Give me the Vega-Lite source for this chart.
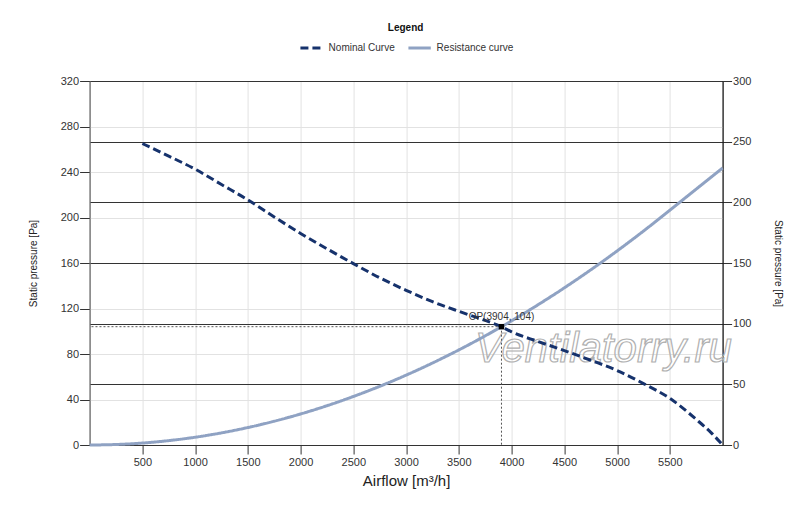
{
  "$schema": "https://vega.github.io/schema/vega-lite/v6.json",
  "width": 633,
  "height": 364,
  "autosize": {"type": "none"},
  "padding": {"left": 89.6, "top": 81, "right": 77.4, "bottom": 62},
  "background": "white",
  "config": {
    "font": "Liberation Sans",
    "view": {"stroke": "#777", "strokeWidth": 1},
    "axis": {"labelColor": "#333", "titleColor": "#222", "tickColor": "#333"}
  },
  "datasets": {
    "curves": [
      {"q": 500, "p": 265, "series": "Nominal Curve"},
      {"q": 750, "p": 254, "series": "Nominal Curve"},
      {"q": 1000, "p": 242.5, "series": "Nominal Curve"},
      {"q": 1250, "p": 229, "series": "Nominal Curve"},
      {"q": 1500, "p": 215.5, "series": "Nominal Curve"},
      {"q": 1750, "p": 200.5, "series": "Nominal Curve"},
      {"q": 2000, "p": 186, "series": "Nominal Curve"},
      {"q": 2250, "p": 172.5, "series": "Nominal Curve"},
      {"q": 2500, "p": 159.5, "series": "Nominal Curve"},
      {"q": 2750, "p": 147, "series": "Nominal Curve"},
      {"q": 3000, "p": 136, "series": "Nominal Curve"},
      {"q": 3250, "p": 126, "series": "Nominal Curve"},
      {"q": 3500, "p": 117.5, "series": "Nominal Curve"},
      {"q": 3750, "p": 109.5, "series": "Nominal Curve"},
      {"q": 3904, "p": 104, "series": "Nominal Curve"},
      {"q": 4000, "p": 99.5, "series": "Nominal Curve"},
      {"q": 4250, "p": 91, "series": "Nominal Curve"},
      {"q": 4500, "p": 83, "series": "Nominal Curve"},
      {"q": 4750, "p": 74.5, "series": "Nominal Curve"},
      {"q": 5000, "p": 65.5, "series": "Nominal Curve"},
      {"q": 5250, "p": 54, "series": "Nominal Curve"},
      {"q": 5500, "p": 41, "series": "Nominal Curve"},
      {"q": 5750, "p": 22.5, "series": "Nominal Curve"},
      {"q": 5900, "p": 10, "series": "Nominal Curve"},
      {"q": 6000, "p": 0, "series": "Nominal Curve"},
      {"q": 0, "p": 0, "series": "Resistance curve"},
      {"q": 250, "p": 0.43, "series": "Resistance curve"},
      {"q": 500, "p": 1.71, "series": "Resistance curve"},
      {"q": 750, "p": 3.84, "series": "Resistance curve"},
      {"q": 1000, "p": 6.82, "series": "Resistance curve"},
      {"q": 1250, "p": 10.66, "series": "Resistance curve"},
      {"q": 1500, "p": 15.35, "series": "Resistance curve"},
      {"q": 1750, "p": 20.9, "series": "Resistance curve"},
      {"q": 2000, "p": 27.29, "series": "Resistance curve"},
      {"q": 2250, "p": 34.54, "series": "Resistance curve"},
      {"q": 2500, "p": 42.65, "series": "Resistance curve"},
      {"q": 2750, "p": 51.6, "series": "Resistance curve"},
      {"q": 3000, "p": 61.41, "series": "Resistance curve"},
      {"q": 3250, "p": 72.08, "series": "Resistance curve"},
      {"q": 3500, "p": 83.59, "series": "Resistance curve"},
      {"q": 3750, "p": 95.96, "series": "Resistance curve"},
      {"q": 3904, "p": 104, "series": "Resistance curve"},
      {"q": 4000, "p": 109.18, "series": "Resistance curve"},
      {"q": 4250, "p": 123.25, "series": "Resistance curve"},
      {"q": 4500, "p": 138.18, "series": "Resistance curve"},
      {"q": 4750, "p": 153.96, "series": "Resistance curve"},
      {"q": 5000, "p": 170.59, "series": "Resistance curve"},
      {"q": 5250, "p": 188.08, "series": "Resistance curve"},
      {"q": 5500, "p": 206.41, "series": "Resistance curve"},
      {"q": 5750, "p": 225.0, "series": "Resistance curve"},
      {"q": 6000, "p": 243.5, "series": "Resistance curve"}
    ],
    "op": [{"q": 3904, "p": 104, "label": "OP(3904, 104)"}],
    "watermark": [{"q": 4870, "p": 73, "text": "Ventilatorry.ru"}],
    "rightAxis": [{"v": 0}, {"v": 300}]
  },
  "layer": [
    {
      "layer": [
        {
          "data": {"name": "watermark"},
          "mark": {"type": "text", "font": "Liberation Sans", "fontStyle": "italic", "fontSize": 42, "fill": "#ffffff", "fillOpacity": 0, "stroke": "#b0b0b0", "strokeWidth": 1.2, "align": "center", "baseline": "alphabetic"},
          "encoding": {
            "x": {"field": "q", "type": "quantitative", "title": "Airflow [m³/h]"},
            "y": {"field": "p", "type": "quantitative", "title": "Static pressure [Pa]"},
            "text": {"field": "text"}
          }
        },
        {
          "data": {"name": "curves"},
          "mark": {"type": "line", "strokeWidth": 3, "interpolate": "monotone"},
          "encoding": {
            "x": {
              "field": "q", "type": "quantitative",
              "scale": {"domain": [0, 6000], "nice": false, "zero": false},
              "title": "Airflow [m³/h]",
              "axis": {
                "values": [500, 1000, 1500, 2000, 2500, 3000, 3500, 4000, 4500, 5000, 5500],
                "format": "d",
                "grid": true, "gridColor": "#e2e2e2",
                "tickSize": 9, "labelPadding": 2, "labelFontSize": 11, "labelFlush": false,
                "domainColor": "#333", "titleFontSize": 15, "titleFontWeight": "normal", "titlePadding": 6
              }
            },
            "y": {
              "field": "p", "type": "quantitative",
              "scale": {"domain": [0, 320], "nice": false},
              "title": "Static pressure [Pa]",
              "axis": {
                "values": [0, 40, 80, 120, 160, 200, 240, 280, 320],
                "grid": true, "gridColor": "#e2e2e2",
                "tickSize": 10, "labelPadding": 1, "labelFontSize": 11,
                "domainColor": "#777", "titleFontSize": 10, "titleFontWeight": "normal", "titlePadding": 22
              }
            },
            "color": {
              "field": "series", "type": "nominal",
              "scale": {"domain": ["Nominal Curve", "Resistance curve"], "range": ["#16326c", "#8fa2c3"]},
              "legend": {"title": "Legend", "orient": "none", "legendX": 209, "legendY": -58, "direction": "horizontal", "titleAnchor": "middle", "symbolType": "stroke", "symbolSize": 500, "symbolStrokeWidth": 3, "labelFontSize": 10, "labelColor": "#333", "titleFontSize": 10, "titleFontWeight": "bold", "titleColor": "#111", "columnPadding": 6, "labelOffset": 4, "titlePadding": 2, "padding": 0}
            },
            "strokeDash": {
              "field": "series", "type": "nominal",
              "scale": {"domain": ["Nominal Curve", "Resistance curve"], "range": [[8, 4], [1, 0]]},
              "legend": {"title": "Legend", "orient": "none", "legendX": 209, "legendY": -58, "direction": "horizontal", "titleAnchor": "middle", "symbolType": "stroke", "symbolSize": 500, "symbolStrokeWidth": 3, "labelFontSize": 10, "labelColor": "#333", "titleFontSize": 10, "titleFontWeight": "bold", "titleColor": "#111", "columnPadding": 6, "labelOffset": 4, "titlePadding": 2, "padding": 0}
            }
          }
        },
        {
          "data": {"name": "op"},
          "mark": {"type": "rule", "color": "#555", "strokeWidth": 1, "strokeDash": [2, 2]},
          "encoding": {
            "x": {"field": "q", "type": "quantitative", "title": "Airflow [m³/h]"},
            "x2": {"datum": 0},
            "y": {"field": "p", "type": "quantitative", "title": "Static pressure [Pa]"}
          }
        },
        {
          "data": {"name": "op"},
          "mark": {"type": "rule", "color": "#555", "strokeWidth": 1, "strokeDash": [2, 2]},
          "encoding": {
            "x": {"field": "q", "type": "quantitative", "title": "Airflow [m³/h]"},
            "y": {"field": "p", "type": "quantitative", "title": "Static pressure [Pa]"},
            "y2": {"datum": 0}
          }
        },
        {
          "data": {"name": "op"},
          "mark": {"type": "square", "size": 30, "color": "#000", "opacity": 1},
          "encoding": {
            "x": {"field": "q", "type": "quantitative", "title": "Airflow [m³/h]"},
            "y": {"field": "p", "type": "quantitative", "title": "Static pressure [Pa]"}
          }
        },
        {
          "data": {"name": "op"},
          "mark": {"type": "text", "fontSize": 10, "color": "#333", "dy": -10, "baseline": "middle", "align": "center"},
          "encoding": {
            "x": {"field": "q", "type": "quantitative", "title": "Airflow [m³/h]"},
            "y": {"field": "p", "type": "quantitative", "title": "Static pressure [Pa]"},
            "text": {"field": "label"}
          }
        }
      ]
    },
    {
      "data": {"name": "rightAxis"},
      "mark": {"type": "point", "opacity": 0},
      "encoding": {
        "y": {
          "field": "v", "type": "quantitative",
          "scale": {"domain": [0, 300], "nice": false},
          "title": "Static pressure [Pa]",
          "axis": {
            "orient": "right",
            "values": [0, 50, 100, 150, 200, 250, 300],
            "grid": true, "gridColor": "#333", "gridWidth": 1,
            "tickSize": 9, "labelPadding": 1, "labelFontSize": 11,
            "domainColor": "#111", "titleFontSize": 10, "titleFontWeight": "normal", "titlePadding": 22
          }
        }
      }
    }
  ],
  "resolve": {"scale": {"y": "independent"}}
}
